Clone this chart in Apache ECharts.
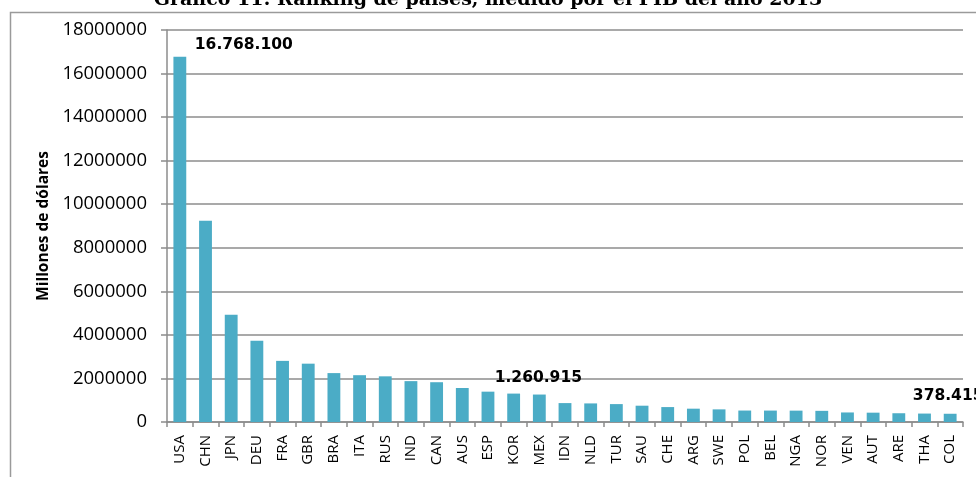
<!DOCTYPE html>
<html>
<head>
<meta charset="utf-8">
<script src="https://cdn.jsdelivr.net/npm/echarts@6/dist/echarts.min.js"></script>
<style>
  html, body { margin: 0; padding: 0; background: #fff; }
  #chart { width: 976px; height: 477px; }
</style>
</head>
<body>
<div id="chart"></div>
<script>
// datos: PIB 2013, millones de dólares
var countries = ['USA', 'CHN', 'JPN', 'DEU', 'FRA', 'GBR', 'BRA', 'ITA', 'RUS', 'IND',
  'CAN', 'AUS', 'ESP', 'KOR', 'MEX', 'IDN', 'NLD', 'TUR', 'SAU', 'CHE',
  'ARG', 'SWE', 'POL', 'BEL', 'NGA', 'NOR', 'VEN', 'AUT', 'ARE', 'THA', 'COL']
var gdp = [16768100, 9240270, 4919563, 3730261, 2806428, 2678455, 2245673, 2149485, 2096777, 1876797,
  1826769, 1560597, 1393040, 1304554, 1260915, 868346, 853539, 822135, 748450, 685434,
  611755, 579680, 525866, 524806, 521803, 512580, 438284, 428322, 402340, 387252, 378415]
// barras con etiqueta de valor (desplazamiento de la etiqueta)
var labelled = { USA: [64, 1], MEX: [-1, -4], COL: [-2, -5] }
var yTicks = [0, 2000000, 4000000, 6000000, 8000000, 10000000, 12000000, 14000000, 16000000, 18000000]

function fmt(v) {
  return String(v).replace(/\B(?=(\d{3})+(?!\d))/g, '.')
}

var chart = echarts.init(document.getElementById('chart'))

var seriesData = gdp.map(function (v, i) {
  var off = labelled[countries[i]]
  if (!off) return v
  return {
    value: v,
    label: {
      show: true,
      position: 'top',
      offset: off,
      formatter: function (p) { return fmt(p.value) },
      fontFamily: 'DejaVu Sans',
      fontWeight: 'bold',
      fontSize: 15.5,
      color: '#000'
    }
  }
})

chart.setOption({
  animation: false,
  title: {
    text: 'Gráfico 11: Ranking de países, medido por el PIB del año 2013',
    left: 'center',
    top: -14,
    textStyle: {
      fontFamily: 'DejaVu Serif',
      fontWeight: 'bold',
      fontSize: 19,
      color: '#000'
    }
  },
  graphic: [{
    type: 'rect',
    left: 8,
    top: 10,
    shape: { width: 1000, height: 500 },
    style: { fill: 'none', stroke: '#9a9a9a', lineWidth: 1.5 },
    z: -1
  }],
  grid: { left: 167, right: 13, top: 30, bottom: 55 },
  xAxis: {
    type: 'category',
    data: countries,
    axisLine: { lineStyle: { color: '#8c8c8c', width: 1.5 } },
    axisTick: { show: true, length: 5, lineStyle: { color: '#8c8c8c', width: 1.5 } },
    axisLabel: {
      rotate: 90,
      interval: 0,
      margin: 13,
      fontFamily: 'Open Sans',
      fontSize: 15,
      color: '#000'
    }
  },
  yAxis: {
    type: 'value',
    min: 0,
    max: 18000000,
    interval: 2000000,
    name: 'Millones de dólares',
    nameLocation: 'middle',
    nameGap: 110,
    nameTextStyle: {
      fontFamily: 'Open Sans',
      fontWeight: 'bold',
      fontSize: 15.5,
      color: '#000'
    },
    axisLine: { show: true, lineStyle: { color: '#8c8c8c', width: 1.5 } },
    axisTick: { show: true, length: 6, lineStyle: { color: '#8c8c8c', width: 1.5 } },
    axisLabel: {
      margin: 20,
      fontFamily: 'Open Sans',
      fontSize: 18.5,
      color: '#000',
      formatter: function (v) { return yTicks.indexOf(v) >= 0 ? String(v) : '' }
    },
    splitLine: { lineStyle: { color: '#8c8c8c', width: 1.5 } }
  },
  series: [{
    type: 'bar',
    data: seriesData,
    barWidth: '50%',
    itemStyle: { color: '#4BACC6' }
  }]
})
</script>
</body>
</html>
